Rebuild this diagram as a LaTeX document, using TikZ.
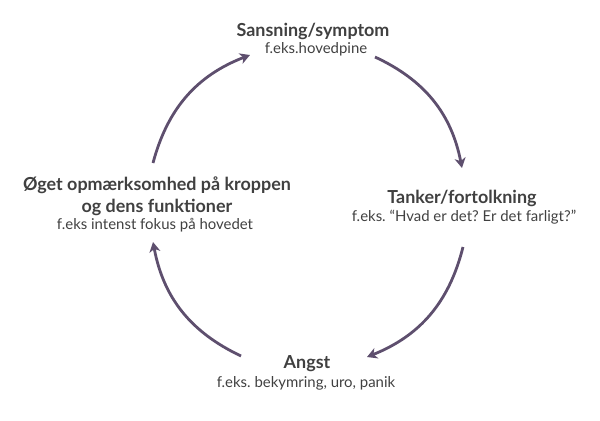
\documentclass[tikz,border=0pt]{standalone}
\usepackage{fontspec}
\setmainfont{Lato}
\usetikzlibrary{arrows.meta}

\definecolor{cyclearrow}{HTML}{5E4F6E}
\definecolor{cycletext}{HTML}{404040}

\frenchspacing
\begin{document}
\begin{tikzpicture}[x=1bp,y=1bp,
  title/.style={text=cycletext,font=\fontsize{18}{22}\selectfont\bfseries,align=center},
  sub/.style={text=cycletext,font=\fontsize{15}{18}\selectfont,align=center},
  cyc/.style={cyclearrow,line width=2.8bp,-{Stealth[length=10bp,width=11bp,inset=3bp]},bend left=27}]

\useasboundingbox (0,0) rectangle (600,420);

\node[title] (sans) at (313,389) {Sansning/symptom};
\node[sub] (sansex) at (316,371) {f.eks.hovedpine};

\node[title] (tank) at (462,222) {Tanker/fortolkning};
\node[sub] (tankex) at (464,203) {f.eks. “Hvad er det? Er det farligt?”};

\node[title] (angst) at (307,56) {Angst};
\node[sub] (angstex) at (306,37) {f.eks. bekymring, uro, panik};

\node[title] (oget) at (157,224) {Øget opmærksomhed på kroppen\\og dens funktioner};
\node[sub] (ogetex) at (155,195) {f.eks intenst fokus på hovedet};

\coordinate (a1s) at (153,257); \coordinate (a1e) at (250,365);
\coordinate (a2s) at (375,363); \coordinate (a2e) at (462,252);
\coordinate (a3s) at (463,173); \coordinate (a3e) at (367,63);
\coordinate (a4s) at (241,64);  \coordinate (a4e) at (153,178);

\foreach \n in {1,...,4}
   \draw [cyc] (a\n s) to (a\n e);

\end{tikzpicture}
\end{document}
